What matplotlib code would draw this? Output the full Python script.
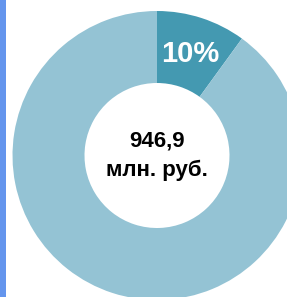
import matplotlib.pyplot as plt

# share of total
labels = ["part", "rest"]
values = [10, 90]
colors = ["#4499B1", "#94C3D4"]
center_text = "946,9\nмлн. руб."

plt.rcParams['font.family'] = ['Liberation Sans', 'DejaVu Sans']

fig = plt.figure(figsize=(2.87, 2.97), dpi=100)
ax = fig.add_axes([0, 0, 1, 1])

wedges, texts, autotexts = ax.pie(
    values, colors=colors, startangle=90, counterclock=False,
    radius=144.5, center=(157, 297 - 155.5), frame=True,
    wedgeprops=dict(width=72, linewidth=0),
    autopct=lambda p: f"{p:.0f}%" if p < 50 else "",
    pctdistance=0.74,
)
for t in autotexts:
    t.set_color("white")
    t.set_fontsize(21)
    t.set_fontweight("bold")

ax.text(157, 297 - 156, center_text, ha="center", va="center",
        fontsize=16, fontweight="bold", linespacing=1.5)

# accent bar at left edge
ax.axvspan(0, 6, color="#6495ED", linewidth=0)

ax.set_xlim(0, 287)
ax.set_ylim(0, 297)
ax.set_aspect("equal")
ax.axis("off")

fig.savefig("out.png", dpi=100)
